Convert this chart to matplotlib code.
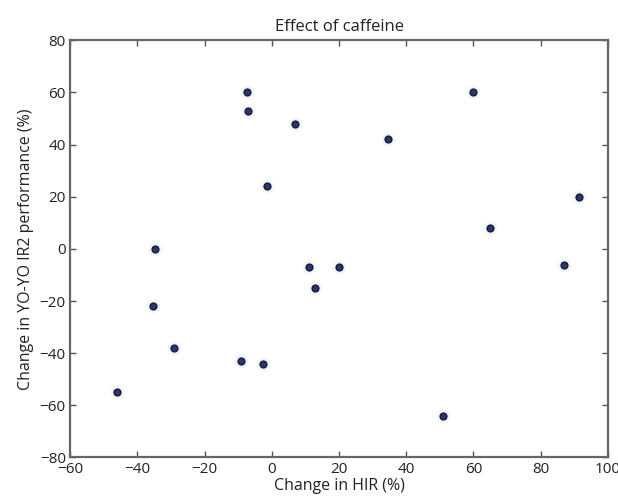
"""Scatter: effect of caffeine on HIR vs YO-YO IR2 performance."""

import numpy as np
import matplotlib
matplotlib.use("Agg")
import matplotlib.pyplot as plt

# change in HIR (%) and change in YO-YO IR2 performance (%)
hir_change = [-46, -34.6, -35.4, -29, -9, -2.7, -7.4, -7.2, 6.8, -1.5,
              11, 12.8, 20, 34.5, 60, 65, 87, 91.4, 51]
yoyo_change = [-55, 0, -22, -38, -43, -44, 60, 53, 48, 24,
               -7, -15, -7, 42, 60, 8, -6, 20, -64]

x_ticks = [-60, -40, -20, 0, 20, 40, 60, 80, 100]
y_ticks = [-80, -60, -40, -20, 0, 20, 40, 60, 80]

plt.rcParams["font.family"] = ["Open Sans", "DejaVu Sans"]
plt.rcParams["axes.unicode_minus"] = True

fig = plt.figure(figsize=(6.18, 5.03), dpi=100)
ax = fig.add_axes([0.1133, 0.0905, 0.8705, 0.8295])

# faint halo + dark dot
ax.scatter(hir_change, yoyo_change, s=90, color="#f3f4f6", zorder=2, linewidths=0)
ax.scatter(hir_change, yoyo_change, s=24, color="#2b3576",
           edgecolors="#161a3a", linewidths=1.0, zorder=3)

ax.set_xlim(-60, 100)
ax.set_ylim(-80, 80)
ax.set_xticks(x_ticks)
ax.set_yticks(y_ticks)
ax.tick_params(direction="in", length=4, width=1, color="#555555",
               labelsize=11, top=True, right=True, pad=3, labelcolor="#222222")
for sp in ax.spines.values():
    sp.set_color("#666666")
    sp.set_linewidth(1.6)

ax.set_title("Effect of caffeine", fontsize=12, color="#222222", pad=7)
ax.set_xlabel("Change in HIR (%)", fontsize=11.5, color="#222222", labelpad=1)
ax.set_ylabel("Change in YO-YO IR2 performance (%)", fontsize=11.5,
              color="#222222", labelpad=4)

fig.savefig("out.png", dpi=100)
